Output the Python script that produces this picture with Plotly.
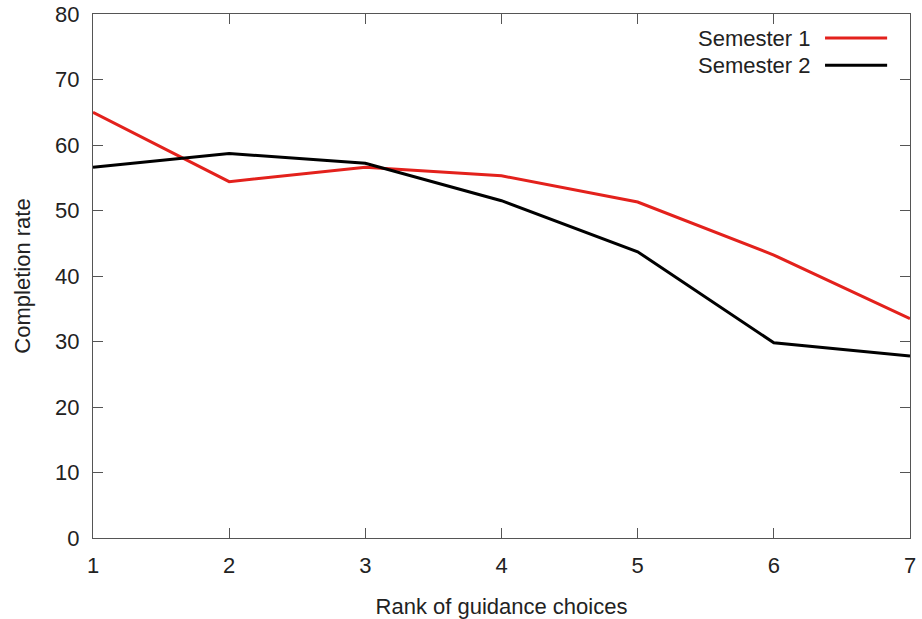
import plotly.graph_objects as go

ranks = [1, 2, 3, 4, 5, 6, 7]
semester1 = [65.0, 54.4, 56.6, 55.3, 51.3, 43.2, 33.5]
semester2 = [56.6, 58.7, 57.2, 51.5, 43.7, 29.8, 27.8]
series_names = ["Semester 1", "Semester 2"]
series_colors = ["#e3211c", "#000000"]
y_ticks = [0, 10, 20, 30, 40, 50, 60, 70, 80]

FONT = "Liberation Sans, Arial, sans-serif"
FS = 22

fig = go.Figure()
for name, vals, col in zip(series_names, [semester1, semester2], series_colors):
    fig.add_trace(go.Scatter(x=ranks, y=vals, mode="lines", name=name,
                             line=dict(color=col, width=3), showlegend=False))

# custom gnuplot-style legend (text left, sample right)
legend_y = [0.954, 0.902]
for name, col, yy in zip(series_names, series_colors, legend_y):
    fig.add_annotation(xref="paper", yref="paper", x=0.881, y=yy, text=name,
                       showarrow=False, xanchor="right", yanchor="middle",
                       font=dict(family=FONT, size=FS, color="#222"))
    fig.add_shape(type="line", xref="paper", yref="paper", x0=0.896, x1=0.972,
                  y0=yy, y1=yy, line=dict(color=col, width=3))

axis_common = dict(showline=True, linecolor="#555", linewidth=1, mirror="ticks",
                   ticks="inside", ticklen=10, tickcolor="#555", tickwidth=1,
                   showgrid=False, zeroline=False, automargin=False,
                   tickfont=dict(family=FONT, size=FS, color="#222"))

fig.update_xaxes(range=[1, 7], tickvals=ranks, ticklabelstandoff=8,
                 title=dict(text="Rank of guidance choices", standoff=22,
                            font=dict(family=FONT, size=FS, color="#222")),
                 **axis_common)
fig.update_yaxes(range=[0, 80], tickvals=y_ticks, ticklabelstandoff=8,
                 title=dict(text="Completion rate", standoff=18,
                            font=dict(family=FONT, size=FS, color="#222")),
                 **axis_common)

fig.update_layout(width=922, height=619, plot_bgcolor="white", paper_bgcolor="white",
                  margin=dict(l=93, r=12, t=14, b=81), showlegend=False)

fig.write_html("out.html", config={"displayModeBar": False},
               post_script="document.body.style.margin='0';")
